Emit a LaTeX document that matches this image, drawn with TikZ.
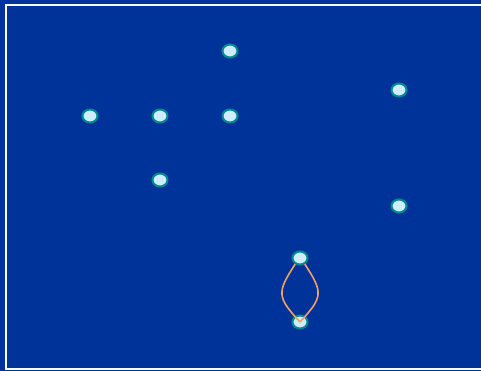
\documentclass[tikz,border=0pt]{standalone}
\definecolor{boardblue}{RGB}{0,51,153}
\definecolor{framecol}{RGB}{250,250,225}
\definecolor{dotfill}{RGB}{206,236,252}
\definecolor{dotedge}{RGB}{0,140,140}
\definecolor{linkcol}{RGB}{244,160,100}
\tikzset{every picture/.style={line width=0.75pt}}
\tikzset{
  vertex/.style={ellipse, draw=dotedge, fill=dotfill, line width=2pt,
    minimum width=15pt, minimum height=13pt, inner sep=0pt},
  link/.style={draw=linkcol, line width=1.6pt}
}
\usetikzlibrary{shapes.geometric}

\begin{document}
\begin{tikzpicture}[x=1pt, y=-1pt]
    \fill[boardblue] (0,0) rectangle (481,371);
    \useasboundingbox (0,0) rectangle (481,371);
    \draw[framecol, line width=1.8pt] (6,5) rectangle (500,369);
    % the dots
    \node[vertex] (t1) at (230,51) {};
    \node[vertex] (m1) at (90,116) {};
    \node[vertex] (m2) at (160,116) {};
    \node[vertex] (m3) at (230,116) {};
    \node[vertex] (r1) at (399,90) {};
    \node[vertex] (l1) at (160,180) {};
    \node[vertex] (r2) at (399,206) {};
    \node[vertex] (u1) at (300,258) {};
    \node[vertex] (u2) at (300,322) {};
    % two links, drawn over the lower dot
    \draw[link] (u1) to[bend right=38, looseness=1.5] (u2.center);
    \draw[link] (u1) to[bend left=38, looseness=1.5] (u2.center);
\end{tikzpicture}
\end{document}
